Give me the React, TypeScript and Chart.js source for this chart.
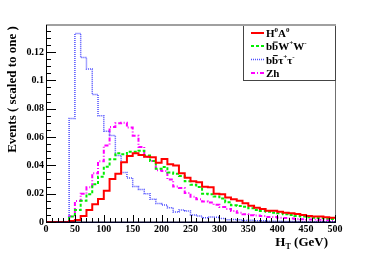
import { useEffect, useRef } from 'react';
import { Chart, registerables } from 'chart.js';

Chart.register(...registerables);

// Bin lower edges (GeV), 10 GeV bins
const BIN_EDGES = [
  0, 10, 20, 30, 40, 50, 60, 70, 80, 90,
  100, 110, 120, 130, 140, 150, 160, 170, 180, 190,
  200, 210, 220, 230, 240, 250, 260, 270, 280, 290,
  300, 310, 320, 330, 340, 350, 360, 370, 380, 390,
  400, 410, 420, 430, 440, 450, 460, 470, 480, 490,
];
const X_END = 500;

const H0A0 = [
  0, 0, 0, 0, 0.0007, 0.0014, 0.0042, 0.0085, 0.0125, 0.0162,
  0.0221, 0.0304, 0.0341, 0.0421, 0.0466, 0.0485, 0.0473, 0.0461, 0.0457, 0.0418,
  0.0445, 0.0408, 0.0398, 0.0344, 0.0313, 0.0287, 0.0280, 0.0249, 0.0246, 0.0199,
  0.0196, 0.0173, 0.0160, 0.0150, 0.0132, 0.0115, 0.0101, 0.0092, 0.0080, 0.0080,
  0.0073, 0.0066, 0.0061, 0.0056, 0.0049, 0.0042, 0.0038, 0.0038, 0.0033, 0.0030,
];
const BBWW = [
  0, 0, 0, 0, 0.0038, 0.0085, 0.0150, 0.0196, 0.0266, 0.0320,
  0.0390, 0.0443, 0.0485, 0.0478, 0.0496, 0.0496, 0.0503, 0.0470, 0.0430, 0.0375,
  0.0388, 0.0350, 0.0340, 0.0325, 0.0287, 0.0262, 0.0247, 0.0200, 0.0196, 0.0180,
  0.0165, 0.0140, 0.0118, 0.0113, 0.0108, 0.0097, 0.0085, 0.0078, 0.0073, 0.0066,
  0.0061, 0.0054, 0.0049, 0.0042, 0.0038, 0.0033, 0.0030, 0.0028, 0.0025, 0.0022,
];
const BBTAUTAU = [
  0, 0, 0, 0, 0.0730, 0.1330, 0.1160, 0.1080, 0.0900, 0.0750,
  0.0640, 0.0610, 0.0470, 0.0350, 0.0310, 0.0250, 0.0230, 0.0200, 0.0160, 0.0130,
  0.0120, 0.0100, 0.0070, 0.0085, 0.0078, 0.0050, 0.0042, 0.0030, 0.0035, 0.0033,
  0.0025, 0.0015, 0.0018, 0.0015, 0.0010, 0.0012, 0.0008, 0.0008, 0.0006, 0.0005,
  0.0005, 0.0004, 0.0003, 0.0003, 0.0002, 0.0002, 0.0002, 0.0001, 0.0001, 0.0001,
];
const ZH = [
  0, 0, 0, 0, 0.0040, 0.0148, 0.0200, 0.0245, 0.0344, 0.0428,
  0.0540, 0.0670, 0.0697, 0.0701, 0.0666, 0.0609, 0.0530, 0.0460, 0.0430, 0.0365,
  0.0360, 0.0300, 0.0250, 0.0240, 0.0205, 0.0178, 0.0160, 0.0145, 0.0138, 0.0122,
  0.0105, 0.0092, 0.0078, 0.0065, 0.0055, 0.0048, 0.0045, 0.0042, 0.0036, 0.0035,
  0.0030, 0.0028, 0.0025, 0.0022, 0.0020, 0.0018, 0.0017, 0.0015, 0.0014, 0.0012,
];

const X_TICKS = [0, 50, 100, 150, 200, 250, 300, 350, 400, 450, 500];
const Y_TICKS = [0, 0.02, 0.04, 0.06, 0.08, 0.1, 0.12];
const Y_TICK_LABELS = ['0', '0.02', '0.04', '0.06', '0.08', '0.1', '0.12'];
const Y_MAX = 0.139;

const Y_TITLE = 'Events ( scaled to one )';

const SERIF = '"Liberation Serif", "DejaVu Serif", serif';

type Seg = { t: string; mode?: 'sup' | 'sub' | 'bar' };

function drawRich(ctx: CanvasRenderingContext2D, segs: Seg[], x: number, y: number, size: number, measureOnly = false) {
  let cx = x;
  for (const s of segs) {
    const small = s.mode === 'sup' || s.mode === 'sub';
    const fs = small ? Math.round(size * 0.65) : size;
    ctx.font = `bold ${fs}px ${SERIF}`;
    const w = ctx.measureText(s.t).width;
    if (!measureOnly) {
      let yy = y;
      if (s.mode === 'sup') yy = y - size * 0.42;
      if (s.mode === 'sub') yy = y + size * 0.25;
      ctx.fillText(s.t, cx, yy);
      if (s.mode === 'bar') {
        ctx.save();
        ctx.strokeStyle = ctx.fillStyle as string;
        ctx.lineWidth = 1;
        ctx.beginPath();
        ctx.moveTo(cx + 1, y - size * 0.72);
        ctx.lineTo(cx + w - 0.5, y - size * 0.72);
        ctx.stroke();
        ctx.restore();
      }
    }
    cx += w;
  }
  return cx - x;
}

const LEGEND = [
  { segs: [{ t: 'H' }, { t: '0', mode: 'sup' }, { t: 'A' }, { t: '0', mode: 'sup' }] as Seg[], color: '#ff0000', width: 2, dash: [] as number[] },
  { segs: [{ t: 'b' }, { t: 'b', mode: 'bar' }, { t: 'W' }, { t: '+', mode: 'sup' }, { t: 'W' }, { t: '-', mode: 'sup' }] as Seg[], color: '#00ee00', width: 2, dash: [3, 2] },
  { segs: [{ t: 'b' }, { t: 'b', mode: 'bar' }, { t: 'τ' }, { t: '+', mode: 'sup' }, { t: 'τ' }, { t: '-', mode: 'sup' }] as Seg[], color: '#4d4dff', width: 1.5, dash: [1, 1] },
  { segs: [{ t: 'Zh' }] as Seg[], color: '#ff00ff', width: 2, dash: [4, 2, 1, 2] },
];

const framePlugin = {
  id: 'rootFrame',
  afterDraw(chart: any) {
    const ctx: CanvasRenderingContext2D = chart.ctx;
    const { left, right, top, bottom } = chart.chartArea;
    const xs = chart.scales.x;
    const ys = chart.scales.y;
    ctx.save();

    // frame
    ctx.strokeStyle = '#a0a0a0';
    ctx.lineWidth = 2;
    ctx.beginPath();
    ctx.moveTo(left, top);
    ctx.lineTo(right + 1, top);
    ctx.stroke();
    ctx.strokeStyle = '#707070';
    ctx.lineWidth = 1;
    ctx.beginPath();
    ctx.moveTo(right + 0.5, top);
    ctx.lineTo(right + 0.5, bottom);
    ctx.stroke();

    // axes
    ctx.strokeStyle = '#000000';
    ctx.lineWidth = 1;
    ctx.beginPath();
    ctx.moveTo(left + 0.5, top);
    ctx.lineTo(left + 0.5, bottom);
    ctx.stroke();
    ctx.lineWidth = 1.5;
    ctx.strokeStyle = '#000022';
    ctx.beginPath();
    ctx.moveTo(left, bottom + 0.25);
    ctx.lineTo(right + 1, bottom + 0.25);
    ctx.stroke();

    // y ticks (inward)
    ctx.lineWidth = 1;
    ctx.strokeStyle = '#000000';
    for (let i = 0; i * 0.005 <= Y_MAX + 1e-9; i++) {
      const py = Math.round(ys.getPixelForValue(i * 0.005)) + 0.5;
      const len = i % 4 === 0 ? 10 : 5;
      ctx.beginPath();
      ctx.moveTo(left, py);
      ctx.lineTo(left + len, py);
      ctx.stroke();
    }
    // x ticks (inward)
    for (let i = 0; i * 10 <= X_END; i++) {
      const px = Math.round(xs.getPixelForValue(i * 10)) + 0.5;
      const len = i % 5 === 0 ? 7 : 4;
      ctx.beginPath();
      ctx.moveTo(px, bottom);
      ctx.lineTo(px, bottom - len);
      ctx.stroke();
    }

    // y title
    ctx.fillStyle = '#000';
    ctx.save();
    ctx.translate(16, 89.5);
    ctx.rotate(-Math.PI / 2);
    ctx.font = `bold 13px ${SERIF}`;
    ctx.textAlign = 'center';
    ctx.textBaseline = 'alphabetic';
    ctx.fillText(Y_TITLE, 0, 0);
    ctx.restore();

    // x title
    ctx.textAlign = 'left';
    ctx.textBaseline = 'alphabetic';
    const xt: Seg[] = [{ t: 'H' }, { t: 'T', mode: 'sub' }, { t: ' (GeV)' }];
    const wT = drawRich(ctx, xt, 0, 0, 13, true);
    drawRich(ctx, xt, 328 - wT, 246, 13);

    // legend
    const lx0 = 243.5, ly0 = 25.5, lx1 = 335.5, ly1 = 80.5;
    ctx.fillStyle = '#ffffff';
    ctx.fillRect(lx0, ly0, lx1 - lx0, ly1 - ly0);
    ctx.strokeStyle = '#444';
    ctx.lineWidth = 1;
    ctx.strokeRect(lx0, ly0, lx1 - lx0, ly1 - ly0);
    ctx.strokeStyle = '#a0a0a0';
    ctx.lineWidth = 2;
    ctx.beginPath();
    ctx.moveTo(lx0 - 0.5, top);
    ctx.lineTo(lx1 + 0.5, top);
    ctx.stroke();

    const rows = [33, 46, 59.5, 73];
    LEGEND.forEach((item, i) => {
      const yy = rows[i];
      ctx.save();
      ctx.strokeStyle = item.color;
      ctx.lineWidth = item.width;
      ctx.setLineDash(item.dash);
      ctx.beginPath();
      ctx.moveTo(251, yy);
      ctx.lineTo(264, yy);
      ctx.stroke();
      ctx.restore();
      ctx.fillStyle = '#000';
      drawRich(ctx, item.segs, 266, yy + 4, 11);
    });

    ctx.restore();
  },
};

function toPoints(values: number[]) {
  const pts = BIN_EDGES.map((x, i) => ({ x, y: values[i] }));
  pts.push({ x: X_END, y: values[values.length - 1] });
  return pts;
}

export default function App() {
  const ref = useRef<HTMLCanvasElement | null>(null);

  useEffect(() => {
    const canvas = ref.current;
    if (!canvas) return;
    const tickFont = { family: SERIF, size: 10, weight: 'bold' as const };
    const chart = new Chart(canvas, {
      type: 'line',
      data: {
        datasets: [
          { label: 'H0A0', data: toPoints(H0A0), borderColor: '#ff0000', borderWidth: 2, stepped: 'before', pointRadius: 0, fill: false },
          { label: 'bbWW', data: toPoints(BBWW), borderColor: '#00ee00', borderWidth: 2, borderDash: [3, 2], stepped: 'before', pointRadius: 0, fill: false },
          { label: 'bbtautau', data: toPoints(BBTAUTAU), borderColor: '#4d4dff', borderWidth: 1.5, borderDash: [1, 1], stepped: 'before', pointRadius: 0, fill: false },
          { label: 'Zh', data: toPoints(ZH), borderColor: '#ff00ff', borderWidth: 2, borderDash: [4, 2, 1, 2], stepped: 'before', pointRadius: 0, fill: false },
        ] as any,
      },
      options: {
        animation: false,
        responsive: false,
        devicePixelRatio: 1,
        layout: { padding: { top: 25, right: 39, left: 0, bottom: 0 } },
        plugins: { legend: { display: false }, tooltip: { enabled: false }, title: { display: false } },
        scales: {
          x: {
            type: 'linear',
            min: 0,
            max: X_END,
            afterBuildTicks: (s: any) => { s.ticks = X_TICKS.map((v) => ({ value: v })); },
            afterFit: (s: any) => { s.height = 31; },
            ticks: { font: tickFont, color: '#000', padding: 1, maxRotation: 0, autoSkip: false },
            grid: { display: false, drawTicks: false },
            border: { display: false },
          },
          y: {
            type: 'linear',
            min: 0,
            max: Y_MAX,
            afterBuildTicks: (s: any) => { s.ticks = Y_TICKS.map((v) => ({ value: v })); },
            afterFit: (s: any) => { s.width = 46; },
            ticks: {
              font: tickFont,
              color: '#000',
              padding: 2,
              autoSkip: false,
              callback: (_v: any, i: number) => Y_TICK_LABELS[i],
            },
            grid: { display: false, drawTicks: false },
            border: { display: false },
          },
        },
      },
      plugins: [framePlugin],
    });
    return () => chart.destroy();
  }, []);

  return (
    <div style={{ position: 'fixed', left: 0, top: 0, width: 374, height: 253, background: '#fff' }}>
      <canvas ref={ref} width={374} height={253} style={{ width: 374, height: 253, display: 'block' }} />
    </div>
  );
}
